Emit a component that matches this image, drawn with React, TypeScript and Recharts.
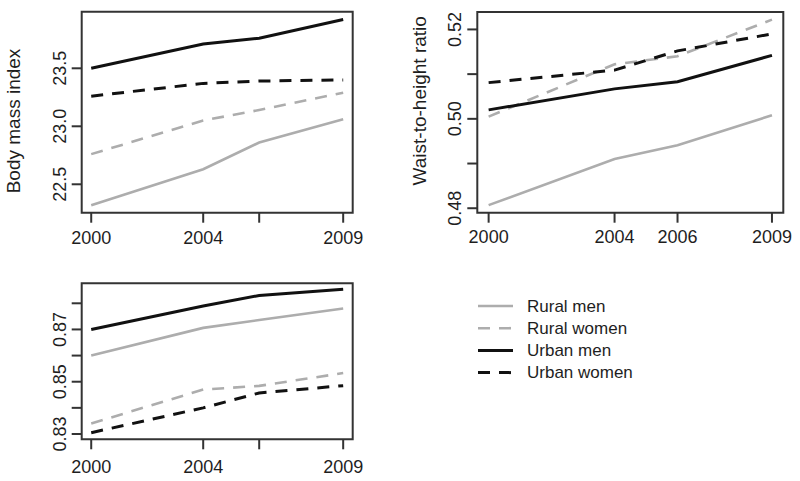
import React from 'react';
import { LineChart, Line, XAxis, YAxis, ReferenceArea, Legend } from 'recharts';

// ---------- data ----------
const years = [2000, 2004, 2006, 2009];
const seriesNames = ['Rural men', 'Rural women', 'Urban men', 'Urban women'];

const bmiRuralMen = [22.32, 22.63, 22.86, 23.06];
const bmiRuralWomen = [22.76, 23.05, 23.14, 23.29];
const bmiUrbanMen = [23.5, 23.71, 23.76, 23.92];
const bmiUrbanWomen = [23.26, 23.37, 23.39, 23.4];

const whtrRuralMen = [0.4807, 0.491, 0.4941, 0.5008];
const whtrRuralWomen = [0.5005, 0.5122, 0.514, 0.5222];
const whtrUrbanMen = [0.502, 0.5067, 0.5083, 0.5142];
const whtrUrbanWomen = [0.5081, 0.5109, 0.5152, 0.519];

const whrRuralMen = [0.86, 0.8706, 0.8736, 0.878];
const whrRuralWomen = [0.834, 0.847, 0.8484, 0.8533];
const whrUrbanMen = [0.87, 0.879, 0.883, 0.8854];
const whrUrbanWomen = [0.8305, 0.84, 0.8457, 0.8485];

const xTickLabelsSparse = ['2000', '2004', '', '2009'];
const xTickLabelsFull = ['2000', '2004', '2006', '2009'];

const bmiTicks = [22.5, 23.0, 23.5];
const bmiTickLabels = ['22.5', '23.0', '23.5'];
const whtrTicks = [0.48, 0.49, 0.5, 0.51, 0.52];
const whtrTickLabels = ['0.48', '', '0.50', '', '0.52'];
const whrTicks = [0.83, 0.84, 0.85, 0.86, 0.87, 0.88];
const whrTickLabels = ['0.83', '', '0.85', '', '0.87', ''];

// ---------- styles ----------
const FONT = '"Liberation Sans", Arial, Helvetica, sans-serif';
const TEXT = '#1e1e1e';
const AXIS = '#333';
const GREY = '#adadad';
const BLACK = '#111';
const DASH = '12 9';

const seriesStyles = [
  { key: 'rm', color: GREY, width: 2.6, dash: undefined as string | undefined },
  { key: 'rw', color: GREY, width: 2.6, dash: DASH },
  { key: 'um', color: BLACK, width: 3, dash: undefined as string | undefined },
  { key: 'uw', color: BLACK, width: 3, dash: DASH },
];

const makeRows = (a: number[], b: number[], c: number[], d: number[]) =>
  years.map((year, i) => ({ year, rm: a[i], rw: b[i], um: c[i], uw: d[i] }));

const bmiRows = makeRows(bmiRuralMen, bmiRuralWomen, bmiUrbanMen, bmiUrbanWomen);
const whtrRows = makeRows(whtrRuralMen, whtrRuralWomen, whtrUrbanMen, whtrUrbanWomen);
const whrRows = makeRows(whrRuralMen, whrRuralWomen, whrUrbanMen, whrUrbanWomen);

// ---------- helpers ----------
const YTick = (props: any) => {
  const { y, index, labels, bx } = props;
  const label = labels[index];
  if (!label) return <g />;
  return (
    <text
      x={bx}
      y={y}
      transform={`rotate(-90 ${bx} ${y})`}
      textAnchor="middle"
      fontSize={18}
      fill={TEXT}
      fontFamily={FONT}
    >
      {label}
    </text>
  );
};

const Title = (props: any) => {
  const { tx, ty, text } = props;
  return (
    <text
      x={tx}
      y={ty}
      transform={`rotate(-90 ${tx} ${ty})`}
      textAnchor="middle"
      fontSize={19}
      fill={TEXT}
      fontFamily={FONT}
    >
      {text}
    </text>
  );
};

const LegendBox = () => (
  <svg width={260} height={100} style={{ display: 'block' }}>
    {seriesStyles.map((s, i) => {
      const cy = 11 + i * 22.2;
      return (
        <g key={s.key}>
          <line x1={0} x2={35} y1={cy} y2={cy} stroke={s.color} strokeWidth={s.width} strokeDasharray={s.dash} />
          <text x={49} y={cy} dominantBaseline="central" fontSize={17} fill={TEXT} fontFamily={FONT}>
            {seriesNames[i]}
          </text>
        </g>
      );
    })}
  </svg>
);

type PanelProps = {
  rows: any[];
  left: number;
  top: number;
  width: number;
  height: number;
  plot: { l: number; t: number; r: number; b: number };
  xDomain: [number, number];
  yDomain: [number, number];
  yTicks: number[];
  yLabels: string[];
  xLabels: string[];
  xTickMargin: number;
  title?: { text: string; x: number; y: number };
  legend?: boolean;
};

const X_AXIS_H = 40;

const Panel = (p: PanelProps) => {
  const margin = {
    top: p.plot.t,
    right: p.width - p.plot.r,
    bottom: p.height - p.plot.b - X_AXIS_H,
    left: 0,
  };
  return (
    <div style={{ position: 'absolute', left: p.left, top: p.top }}>
      <LineChart width={p.width} height={p.height} data={p.rows} margin={margin}>
        <XAxis
          dataKey="year"
          type="number"
          domain={p.xDomain}
          ticks={years}
          interval={0}
          height={X_AXIS_H}
          axisLine={false}
          tickSize={10}
          tickMargin={p.xTickMargin}
          tickLine={{ stroke: AXIS, strokeWidth: 2 }}
          tick={{ fontSize: 18, fill: TEXT, fontFamily: FONT }}
          tickFormatter={(_v: any, i: number) => p.xLabels[i]}
        />
        <YAxis
          type="number"
          domain={p.yDomain}
          ticks={p.yTicks}
          interval={0}
          width={p.plot.l}
          axisLine={false}
          tickSize={10}
          tickLine={{ stroke: AXIS, strokeWidth: 2 }}
          tick={<YTick labels={p.yLabels} bx={p.plot.l - 16} />}
          label={p.title ? <Title tx={p.title.x} ty={p.title.y} text={p.title.text} /> : undefined}
        />
        <ReferenceArea
          x1={p.xDomain[0]}
          x2={p.xDomain[1]}
          y1={p.yDomain[0]}
          y2={p.yDomain[1]}
          fill="none"
          fillOpacity={0}
          stroke={AXIS}
          strokeWidth={2}
          ifOverflow="visible"
        />
        {seriesStyles.map((s, i) => (
          <Line
            key={s.key}
            dataKey={s.key}
            name={seriesNames[i]}
            stroke={s.color}
            strokeWidth={s.width}
            strokeDasharray={s.dash}
            dot={false}
            activeDot={false}
            isAnimationActive={false}
          />
        ))}
        {p.legend && (
          <Legend
            layout="vertical"
            align="center"
            verticalAlign="middle"
            width={260}
            height={100}
            content={<LegendBox />}
            wrapperStyle={{ position: 'absolute', left: 478, top: 45 }}
          />
        )}
      </LineChart>
    </div>
  );
};

export default function App() {
  return (
    <div
      style={{
        position: 'absolute',
        left: 0,
        top: 0,
        width: 800,
        height: 481,
        background: '#fff',
        overflow: 'hidden',
        fontFamily: FONT,
      }}
    >
      <Panel
        rows={bmiRows}
        left={0}
        top={0}
        width={380}
        height={260}
        plot={{ l: 81.7, t: 11.7, r: 352.7, b: 212.7 }}
        xDomain={[1999.66, 2009.34]}
        yDomain={[22.255, 23.988]}
        yTicks={bmiTicks}
        yLabels={bmiTickLabels}
        xLabels={xTickLabelsSparse}
        xTickMargin={9}
        title={{ text: 'Body mass index', x: 20.2, y: 121 }}
      />
      <Panel
        rows={whtrRows}
        left={390}
        top={0}
        width={410}
        height={260}
        plot={{ l: 87.3, t: 12, r: 393.3, b: 212.7 }}
        xDomain={[1999.64, 2009.36]}
        yDomain={[0.479, 0.5239]}
        yTicks={whtrTicks}
        yLabels={whtrTickLabels}
        xLabels={xTickLabelsFull}
        xTickMargin={8}
        title={{ text: 'Waist-to-height ratio', x: 36, y: 100.8 }}
      />
      <Panel
        rows={whrRows}
        left={0}
        top={250}
        width={800}
        height={231}
        plot={{ l: 81.7, t: 33.3, r: 352.7, b: 189.3 }}
        xDomain={[1999.66, 2009.34]}
        yDomain={[0.82797, 0.88765]}
        yTicks={whrTicks}
        yLabels={whrTickLabels}
        xLabels={xTickLabelsSparse}
        xTickMargin={11}
        legend
      />
    </div>
  );
}
